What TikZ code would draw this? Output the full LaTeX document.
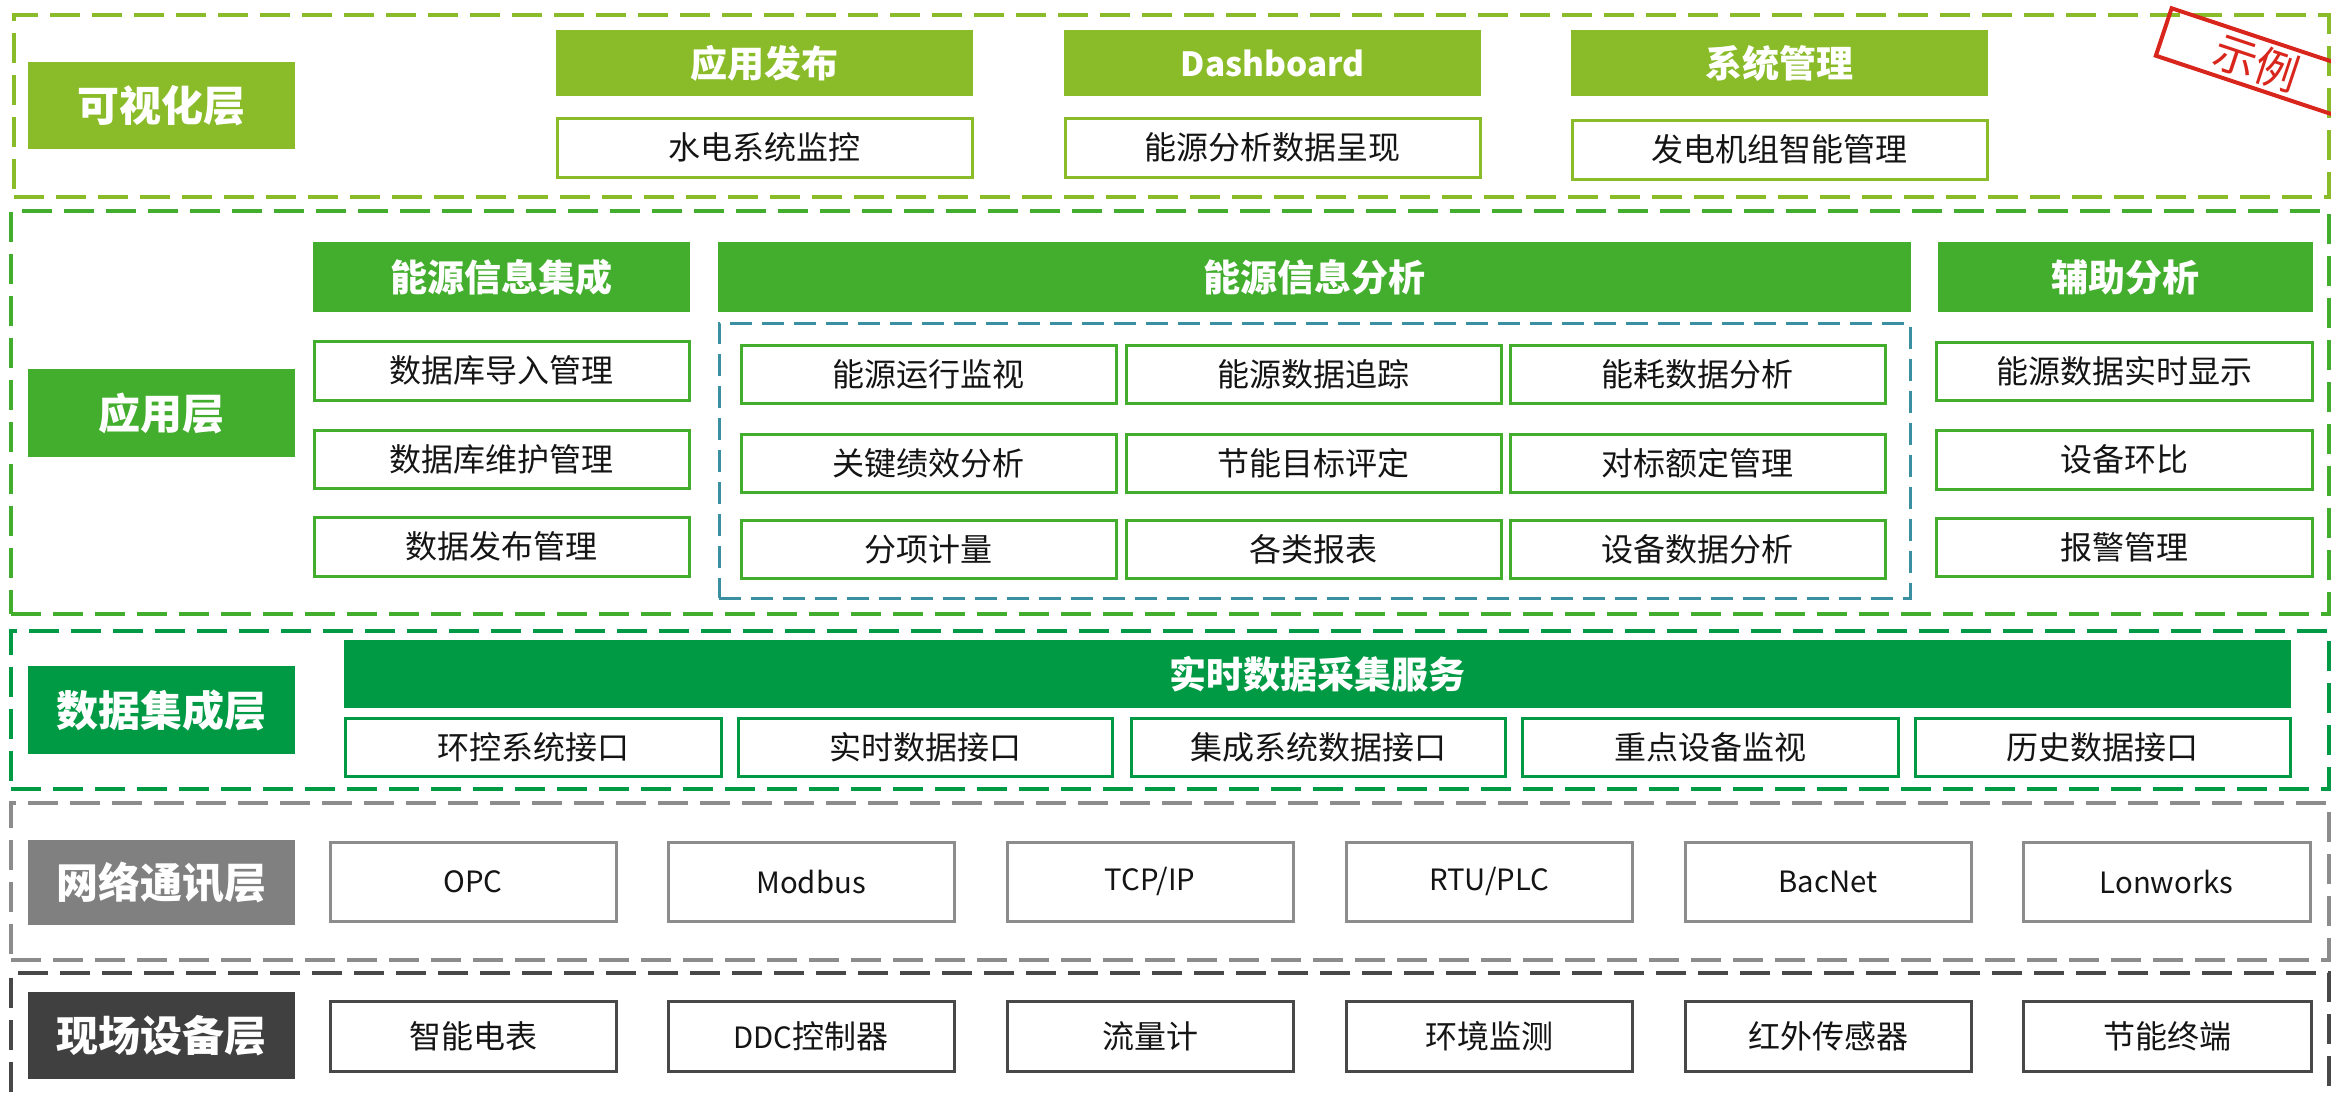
\documentclass[tikz,border=0pt]{standalone}
\usepackage{fontspec}
\setmainfont{Noto Sans CJK SC}
\definecolor{cA}{RGB}{138,188,42}
\definecolor{cB}{RGB}{67,174,45}
\definecolor{cC}{RGB}{0,154,68}
\definecolor{cD}{RGB}{128,128,128}
\definecolor{cDl}{RGB}{140,140,140}
\definecolor{cE}{RGB}{64,64,64}
\definecolor{cEl}{RGB}{72,72,72}
\definecolor{teal1}{RGB}{58,143,160}
\definecolor{red1}{RGB}{217,38,28}
\definecolor{textc}{RGB}{20,20,20}
\newcommand\rbox[7]{\node[#1, minimum width={(#5-#3)*0.3pt}, minimum height={(#6-#4)*0.3pt}] (#2) at ({(#3+#5)/2},{(#4+#6)/2}) {#7};}
\newcommand\lat[1]{{\fontsize{8.8}{10}\selectfont #1}}
\begin{document}
\begin{tikzpicture}[x=0.3pt,y=-0.3pt,
  every node/.style={inner sep=0pt, outer sep=0pt, align=center},
  frame/.style={draw=#1, line width=1.2pt, dash pattern=on 9pt off 3.6pt},
  lab/.style={fill=#1, text=white, font=\fontsize{12.6}{14}\selectfont\bfseries},
  hdr/.style={fill=#1, text=white, font=\fontsize{11.1}{13}\selectfont\bfseries},
  cell/.style={draw=#1, fill=white, line width=0.9pt, text=textc, font=\fontsize{9.6}{11}\selectfont},
]
\useasboundingbox (0,0) rectangle (2331,1095);
\clip (0,0) rectangle (2331,1095);
% layer frames
\rbox{frame=cA}{L1}{14}{15}{2329}{197}{}
\rbox{frame=cB}{L2}{11}{211}{2329}{614}{}
\rbox{frame=cC}{L3}{11}{631}{2329}{789}{}
\rbox{frame=cDl}{L4}{11}{803}{2329}{960}{}
\rbox{frame=cEl}{L5}{11}{973}{2329}{1120}{}
% layer 1
\rbox{lab=cA}{lab1}{28}{62}{295}{149}{可视化层}
\rbox{hdr=cA}{h11}{556}{30}{973}{96}{应用发布}
\rbox{hdr=cA}{h12}{1064}{30}{1481}{96}{{\fontsize{10}{12}\selectfont Dashboard}}
\rbox{hdr=cA}{h13}{1571}{30}{1988}{96}{系统管理}
\rbox{cell=cA}{s11}{557}{118}{972}{177}{水电系统监控}
\rbox{cell=cA}{s12}{1065}{118}{1480}{177}{能源分析数据呈现}
\rbox{cell=cA}{s13}{1572}{120}{1987}{179}{发电机组智能管理}
% layer 2
\rbox{lab=cB}{lab2}{28}{369}{295}{457}{应用层}
\rbox{hdr=cB}{h21}{313}{242}{690}{312}{能源信息集成}
\rbox{hdr=cB}{h22}{718}{242}{1911}{312}{能源信息分析}
\rbox{hdr=cB}{h23}{1938}{242}{2313}{312}{辅助分析}
\rbox{draw=teal1, line width=0.9pt, dash pattern=on 6.6pt off 3pt}{mid}{719}{323}{1910}{598}{}
\rbox{cell=cB}{a1}{314}{341}{689}{400}{数据库导入管理}
\rbox{cell=cB}{a2}{314}{430}{689}{488}{数据库维护管理}
\rbox{cell=cB}{a3}{314}{517}{689}{576}{数据发布管理}
\rbox{cell=cB}{m11}{741}{345}{1116}{403}{能源运行监视}
\rbox{cell=cB}{m12}{1126}{345}{1501}{403}{能源数据追踪}
\rbox{cell=cB}{m13}{1510}{345}{1885}{403}{能耗数据分析}
\rbox{cell=cB}{m21}{741}{434}{1116}{492}{关键绩效分析}
\rbox{cell=cB}{m22}{1126}{434}{1501}{492}{节能目标评定}
\rbox{cell=cB}{m23}{1510}{434}{1885}{492}{对标额定管理}
\rbox{cell=cB}{m31}{741}{520}{1116}{578}{分项计量}
\rbox{cell=cB}{m32}{1126}{520}{1501}{578}{各类报表}
\rbox{cell=cB}{m33}{1510}{520}{1885}{578}{设备数据分析}
\rbox{cell=cB}{r1}{1936}{342}{2312}{400}{能源数据实时显示}
\rbox{cell=cB}{r2}{1936}{430}{2312}{489}{设备环比}
\rbox{cell=cB}{r3}{1936}{518}{2312}{576}{报警管理}
% layer 3
\rbox{lab=cC}{lab3}{28}{666}{295}{754}{数据集成层}
\rbox{hdr=cC}{h31}{344}{640}{2291}{708}{实时数据采集服务}
\rbox{cell=cC}{d1}{345}{718}{721}{776}{环控系统接口}
\rbox{cell=cC}{d2}{738}{718}{1112}{776}{实时数据接口}
\rbox{cell=cC}{d3}{1131}{718}{1505}{776}{集成系统数据接口}
\rbox{cell=cC}{d4}{1522}{718}{1898}{776}{重点设备监视}
\rbox{cell=cC}{d5}{1915}{718}{2290}{776}{历史数据接口}
% layer 4
\rbox{lab=cD}{lab4}{28}{840}{295}{925}{网络通讯层}
\rbox{cell=cDl}{n1}{330}{842}{616}{921}{\lat{OPC}}
\rbox{cell=cDl}{n2}{668}{842}{954}{921}{\lat{Modbus}}
\rbox{cell=cDl}{n3}{1007}{842}{1293}{921}{\lat{TCP/IP}}
\rbox{cell=cDl}{n4}{1346}{842}{1632}{921}{\lat{RTU/PLC}}
\rbox{cell=cDl}{n5}{1685}{842}{1971}{921}{\lat{BacNet}}
\rbox{cell=cDl}{n6}{2023}{842}{2310}{921}{\lat{Lonworks}}
% layer 5
\rbox{lab=cE}{lab5}{28}{992}{295}{1079}{现场设备层}
\rbox{cell=cEl}{f1}{330}{1001}{616}{1071}{智能电表}
\rbox{cell=cEl}{f2}{668}{1001}{954}{1071}{\lat{DDC}控制器}
\rbox{cell=cEl}{f3}{1007}{1001}{1293}{1071}{流量计}
\rbox{cell=cEl}{f4}{1346}{1001}{1632}{1071}{环境监测}
\rbox{cell=cEl}{f5}{1685}{1001}{1971}{1071}{红外传感器}
\rbox{cell=cEl}{f6}{2023}{1001}{2311}{1071}{节能终端}
% stamp
\node[draw=red1, line width=1.2pt, rotate=-18.4, minimum width=59pt, minimum height=15pt, text=red1, font=\fontsize{13}{14}\selectfont] (stamp) at (2257,63) {示例};
\end{tikzpicture}
\end{document}
